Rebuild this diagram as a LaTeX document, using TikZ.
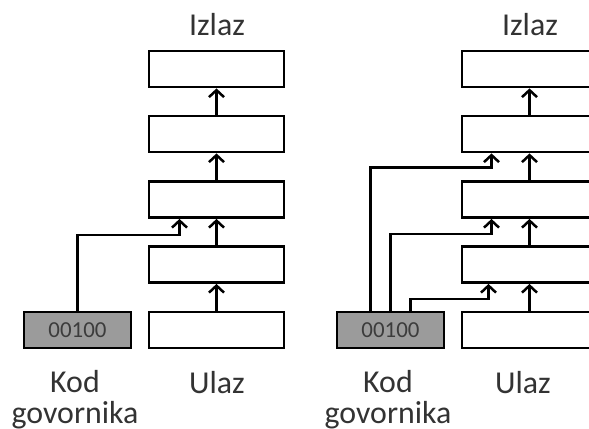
\documentclass[tikz,border=0pt]{standalone}
\usepackage{fontspec}
\setmainfont{Carlito}
\usetikzlibrary{arrows.meta}
\definecolor{codefill}{RGB}{155,155,155}
\definecolor{codetext}{RGB}{60,60,60}
\tikzset{
  layer/.style={draw, line width=2.8bp, fill=white, minimum width=135bp, minimum height=36bp, inner sep=0pt},
  codebox/.style={draw, line width=2.8bp, fill=codefill, minimum width=107bp, minimum height=36bp, inner sep=0pt,
    font=\fontsize{23}{23}\selectfont, text=codetext},
  arr/.style={line width=2.5bp, -{Straight Barb[length=7bp,width=15bp]}},
  lbl/.style={font=\fontsize{32}{31}\selectfont, text=black!80, align=center, inner sep=0pt, anchor=base},
}
\begin{document}
\begin{tikzpicture}[x=1bp,y=-1bp]
\useasboundingbox (0,0) rectangle (589,428);
\clip (0,0) rectangle (589,428);

% ---- left network: speaker code fed into one layer ----
\foreach \i/\y in {1/69,2/134,3/199.5,4/264.5,5/330}
  \node[layer] (a\i) at (216.5,\y) {};
\node[codebox] (ga) at (77.5,330) {00100};
\foreach \i/\j in {5/4,4/3,3/2,2/1}
  \draw[arr] (a\i.north) -- (a\j.south);
\draw[arr] (ga.north) |- ([xshift=-37bp,yshift=-16bp]a3.south) -- ([xshift=-37bp]a3.south);

\node[lbl] (outa) at (217,35) {Izlaz};
\node[lbl] (ina) at (217,393) {Ulaz};
% base anchor of a two-line label sits on its last line
\node[lbl] (spka) at (75,423) {Kod\\govornika};

% ---- right network: speaker code fed into every hidden layer ----
\foreach \i/\y in {1/69,2/134,3/199.5,4/264.5,5/330}
  \node[layer] (b\i) at (529.5,\y) {};
\node[codebox] (gb) at (390.5,330) {00100};
\foreach \i/\j in {5/4,4/3,3/2,2/1}
  \draw[arr] (b\i.north) -- (b\j.south);
\draw[arr] ([xshift=-20bp]gb.north) |- ([xshift=-38bp,yshift=-14bp]b2.south) -- ([xshift=-38bp]b2.south);
\draw[arr] (gb.north) |- ([xshift=-38bp,yshift=-15bp]b3.south) -- ([xshift=-38bp]b3.south);
\draw[arr] ([xshift=20bp]gb.north) |- ([xshift=-41bp,yshift=-15bp]b4.south) -- ([xshift=-41bp]b4.south);

\node[lbl] (outb) at (530,35) {Izlaz};
\node[lbl] (inb) at (523,393) {Ulaz};
\node[lbl] (spkb) at (388,423) {Kod\\govornika};
\end{tikzpicture}
\end{document}
